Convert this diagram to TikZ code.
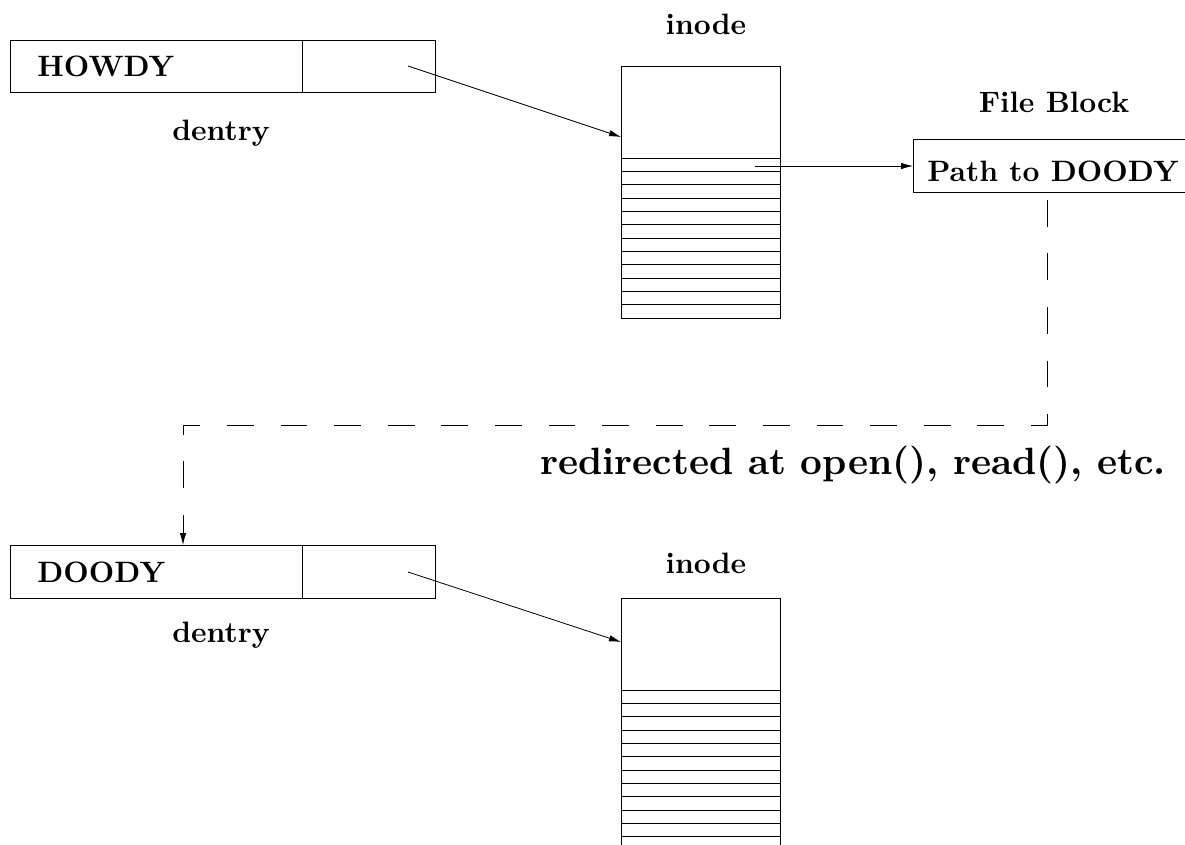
\documentclass[tikz,border=0pt]{standalone}
\usepackage{fontspec}
\newfontfamily\lmbx{lmroman10-bold}[Extension=.otf]
\usetikzlibrary{arrows.meta}
\begin{document}
\begin{tikzpicture}[x=1pt,y=-1pt, line width=0.8pt,
  lbl/.style={font=\lmbx\fontsize{29.5}{35}\selectfont, inner sep=0pt},
  biglbl/.style={font=\lmbx\fontsize{38}{45}\selectfont, inner sep=0pt},
  boxnode/.style={draw, rectangle, inner sep=0pt, anchor=north west},
  arr/.style={-{Latex[length=12pt,width=6.5pt]}},
  dsh/.style={dash pattern=on 26.8pt off 26.8pt, dash phase=46.6pt}]
\useasboundingbox (0,0) rectangle (1185,845);

% ---- top dentry ----
\node[boxnode, minimum width=425pt, minimum height=52pt] (d1) at (10,40) {};
\draw (302,40) -- (302,92);
\node[lbl, anchor=base west] (t1) at (37,77) {HOWDY};
\node[lbl, anchor=base] (l1) at (221,141) {dentry};

% ---- top inode ----
\node[lbl, anchor=base] (il1) at (706,35) {inode};
\node[boxnode, minimum width=159pt, minimum height=252pt] (i1) at (621,66) {};
\foreach \k in {0,...,11} \draw (621,{158+\k*13.333}) -- (780,{158+\k*13.333});

% ---- file block ----
\node[lbl, anchor=base] (fl) at (1054,113) {File Block};
\node[boxnode, minimum width=274pt, minimum height=53pt] (fb) at (913,139) {};
\node[lbl, anchor=base west] (ft) at (927,182) {Path to DOODY};

% ---- bottom dentry ----
\node[boxnode, minimum width=425pt, minimum height=53pt] (d2) at (10,545) {};
\draw (302,545) -- (302,598);
\node[lbl, anchor=base west] (t2) at (37,582) {DOODY};
\node[lbl, anchor=base] (l2) at (221,642) {dentry};

% ---- bottom inode ----
\node[lbl, anchor=base] (il2) at (706,573) {inode};
\node[boxnode, minimum width=159pt, minimum height=255pt] (i2) at (621,598) {};
\foreach \k in {0,...,11} \draw (621,{690+\k*13.333}) -- (780,{690+\k*13.333});

% ---- label of redirection ----
\node[biglbl, anchor=base west] (rd) at (540,474) {redirected at open(), read(), etc.};

% ---- connectors ----
\coordinate (p1) at (408,66);
\coordinate (q1) at (621,137);
\draw[arr] (p1) -- (q1);

\coordinate (p2) at (755,166);
\draw[arr] (p2) -- (p2 -| fb.west);

\coordinate (p3) at (408,572);
\coordinate (q3) at (621,642);
\draw[arr] (p3) -- (q3);

\coordinate (c1) at (1047,425);
\coordinate (c2) at (183,425);
\draw[dsh, arr] (fb.south -| c1) -- (c1) -- (c2) -- (c2 |- d2.north);
\end{tikzpicture}
\end{document}
